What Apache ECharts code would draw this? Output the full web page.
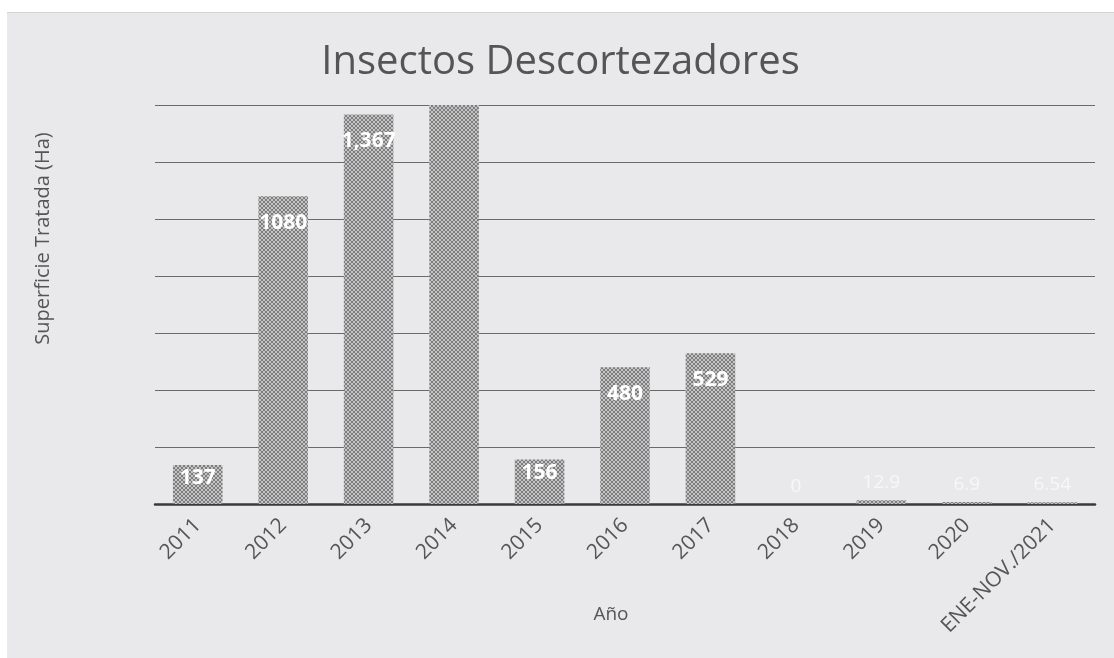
<!DOCTYPE html>
<html>
<head>
  <meta charset="utf-8">
  <title>Insectos Descortezadores</title>
  <script src="https://cdn.jsdelivr.net/npm/echarts@6/dist/echarts.min.js"></script>
  <style>
    html, body { margin: 0; padding: 0; background: #ffffff; }
    #chart1 { position: absolute; left: 7px; top: 12px; width: 1107px; height: 646px;
              border-top: 1px solid #d4d4d6; }
  </style>
</head>
<body>
<div id="chart1"></div>
<script type="text/javascript">
  // datos
  const years = ['2011', '2012', '2013', '2014', '2015', '2016', '2017', '2018', '2019', '2020', 'ENE-NOV./2021'];
  const superficie = [137, 1080, 1367, 1400, 156, 480, 529, 0, 12.9, 6.9, 6.54];
  const etiquetas = ['137', '1080', '1,367', '', '156', '480', '529', '0', '12.9', '6.9', '6.54'];

  // trama de puntos de las barras
  const cv = document.createElement('canvas');
  cv.width = 4; cv.height = 4;
  const cx = cv.getContext('2d');
  cx.fillStyle = '#c4c4c4'; cx.fillRect(0, 0, 4, 4);
  cx.fillStyle = '#7e7e7e'; cx.fillRect(0, 0, 2, 2); cx.fillRect(2, 2, 2, 2);

  let myChart1 = echarts.init(document.getElementById('chart1'));

  const data = superficie.map((v, i) => {
    let label = { formatter: etiquetas[i] };
    if (etiquetas[i] === '') label = { show: false };
    else if (v < 20) label = { formatter: etiquetas[i], position: 'top', distance: 8, color: '#f7f7f7', fontWeight: 'normal', fontSize: 19 };
    else if (v < 200) label = { formatter: etiquetas[i], distance: 3 };
    return { value: v, label: label };
  });

  myChart1.setOption({
    backgroundColor: '#e9e9eb',
    title: {
      text: 'Insectos Descortezadores',
      left: 'center',
      top: 25,
      textStyle: { fontFamily: 'Open Sans', fontSize: 40, fontWeight: 'normal', color: '#555555' }
    },
    grid: { left: 148, right: 19, top: 92, bottom: 155, outerBoundsMode: 'none', containLabel: false },
    xAxis: {
      type: 'category',
      data: years,
      name: 'Año',
      nameLocation: 'middle',
      nameGap: 101,
      nameMoveOverlap: false,
      nameTextStyle: { fontFamily: 'Open Sans', fontSize: 19, color: '#555555', padding: [0, 28, 0, 0] },
      axisLine: { lineStyle: { color: '#3a3a3a', width: 2.5 } },
      axisTick: { show: false },
      axisLabel: { rotate: 45, fontFamily: 'Open Sans', fontSize: 21, color: '#555555', margin: 18, interval: 0 }
    },
    yAxis: {
      type: 'value',
      min: 0,
      max: 1400,
      interval: 200,
      name: 'Superficie Tratada (Ha)',
      nameLocation: 'middle',
      nameGap: 102,
      nameMoveOverlap: false,
      nameTextStyle: { fontFamily: 'Open Sans', fontSize: 20, color: '#555555', padding: [0, 0, 0, 132] },
      axisLine: { show: false },
      axisTick: { show: false },
      axisLabel: { show: false },
      splitLine: { lineStyle: { color: '#6a6a6a', width: 1 } }
    },
    series: [{
      name: 'Superficie Tratada (Ha)',
      type: 'bar',
      barWidth: '58%',
      data: data,
      clip: true,
      itemStyle: { color: { image: cv, repeat: 'repeat' } },
      label: {
        show: true,
        position: 'insideTop',
        distance: 16,
        fontFamily: 'Open Sans',
        fontSize: 21,
        fontWeight: 'bold',
        color: '#ffffff'
      }
    }]
  });
</script>
</body>
</html>
